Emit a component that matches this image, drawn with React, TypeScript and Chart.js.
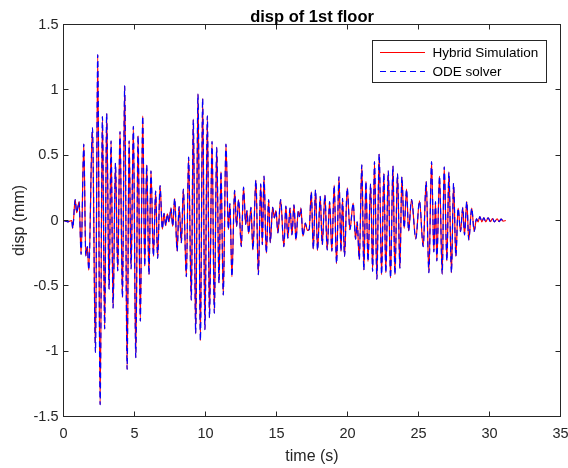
import { useEffect, useRef } from "react";
import { Chart, registerables } from "chart.js";

Chart.register(...registerables);

// ---- data (local extrema of the response) ----
const timeS = [
  0, 0.3, 0.58, 0.65, 0.82, 0.93, 1.10, 1.24, 1.43, 1.57,
  1.68, 1.78, 2.04, 2.25, 2.41, 2.58, 2.74, 2.90, 3.04, 3.21,
  3.35, 3.49, 3.66, 3.82, 3.98, 4.15, 4.31, 4.48, 4.62, 4.76,
  4.92, 5.09, 5.25, 5.41, 5.58, 5.72, 5.86, 6.02, 6.16, 6.33,
  6.49, 6.63, 6.80, 6.96, 7.08, 7.20, 7.31, 7.43, 7.57, 7.69,
  7.83, 8.00, 8.14, 8.30, 8.44, 8.65, 8.81, 9.00, 9.14, 9.31,
  9.47, 9.64, 9.80, 9.96, 10.13, 10.28, 10.46, 10.62, 10.79, 10.95,
  11.09, 11.25, 11.44, 11.61, 11.72, 11.86, 12.05, 12.19, 12.33, 12.52,
  12.68, 12.83, 12.92, 13.04, 13.20, 13.34, 13.55, 13.72, 13.89, 14.00,
  14.12, 14.28, 14.45, 14.56, 14.73, 14.85, 14.96, 15.10, 15.29, 15.52,
  15.66, 15.80, 15.95, 16.09, 16.23, 16.37, 16.53, 16.62, 16.72, 16.86,
  17.03, 17.17, 17.30, 17.45, 17.59, 17.75, 17.89, 18.08, 18.22, 18.41,
  18.57, 18.74, 18.90, 19.06, 19.23, 19.40, 19.54, 19.65, 19.79, 19.98,
  20.17, 20.40, 20.57, 20.68, 20.83, 21.01, 21.15, 21.30, 21.44, 21.63,
  21.77, 21.90, 22.07, 22.23, 22.40, 22.56, 22.70, 22.87, 23.03, 23.20,
  23.34, 23.52, 23.69, 23.83, 23.99, 24.16, 24.30, 24.51, 24.81, 25.07,
  25.33, 25.54, 25.73, 25.92, 26.08, 26.20, 26.29, 26.48, 26.67, 26.81,
  27.00, 27.14, 27.32, 27.47, 27.63, 27.79, 27.96, 28.12, 28.24, 28.40,
  28.54, 28.75, 28.92, 29.08, 29.20, 29.32, 29.46, 29.60, 29.74, 29.90,
  30.07, 30.21, 30.35, 30.54, 30.68, 30.82, 30.96, 31.15,
];

const dispHybrid = [
  0, -0.01, 0.0, -0.06, 0.16, 0.06, 0.145, -0.26, 0.585, -0.27,
  -0.2, -0.38, 0.71, -1.01, 1.27, -1.41, 0.795, -0.83, 0.82, -0.525,
  0.61, -0.67, 0.44, -0.385, 0.68, -0.59, 1.03, -1.14, 0.61, -0.37,
  0.72, -1.05, 0.65, -0.77, 0.80, -0.35, 0.425, -0.415, 0.38, -0.275,
  0.225, -0.29, 0.267, -0.066, 0.055, -0.04, 0.05, -0.01, 0.095, -0.045,
  0.17, -0.235, 0.107, -0.17, 0.24, -0.43, 0.485, -0.61, 0.775, -0.865,
  0.97, -0.92, 0.935, -0.835, 0.80, -0.745, 0.605, -0.71, 0.56, -0.48,
  0.375, -0.57, 0.585, -0.07, 0.13, -0.43, 0.23, -0.045, 0.16, -0.2,
  0.255, -0.03, 0.075, -0.1, 0.10, -0.225, 0.31, -0.415, 0.28, -0.185,
  0.34, -0.25, 0.16, -0.17, 0.10, 0.02, 0.075, -0.095, 0.16, -0.20,
  0.11, -0.135, 0.095, -0.11, 0.12, -0.15, 0.07, 0.03, 0.095, -0.12,
  -0.02, -0.075, -0.07, 0.22, -0.22, 0.235, -0.23, 0.185, -0.185, 0.195,
  -0.225, 0.145, -0.235, 0.27, -0.33, 0.335, -0.237, 0.17, -0.275, 0.25,
  -0.07, 0.133, -0.143, -0.01, -0.30, 0.425, -0.38, 0.30, -0.313, 0.28,
  -0.39, 0.45, -0.45, 0.51, -0.415, 0.362, -0.40, 0.38, -0.44, 0.418,
  -0.415, 0.36, -0.365, 0.335, -0.06, 0.24, -0.08, 0.16, -0.14, 0.15,
  -0.2, 0.30, -0.40, 0.45, -0.24, 0.145, -0.31, 0.34, -0.41, 0.41,
  -0.31, 0.37, -0.40, 0.285, -0.275, 0.095, -0.085, 0.10, -0.11, 0.145,
  -0.148, 0.095, -0.084, 0.013, -0.01, 0.03, -0.01, 0.02, -0.01, 0.02,
  -0.008, 0.015, -0.01, 0.013, -0.008, 0.01, -0.005, 0.0,
];

// The ODE-solver curve lies on top of the hybrid-simulation curve in the picture.
const dispODE = dispHybrid;

const seriesNames = ["Hybrid Simulation", "ODE solver"];
const xTickValues = [0, 5, 10, 15, 20, 25, 30, 35];
const xTickLabels = ["0", "5", "10", "15", "20", "25", "30", "35"];
const yTickValues = [-1.5, -1, -0.5, 0, 0.5, 1, 1.5];
const yTickLabels = ["-1.5", "-1", "-0.5", "0", "0.5", "1", "1.5"];
const chartTitle = "disp of 1st floor";
const xAxisLabel = "time (s)";
const yAxisLabel = "disp (mm)";

const FONT = '"Liberation Sans", Arial, Helvetica, sans-serif';
const AXIS_COLOR = "#262626";
const RED = "rgb(255,0,0)";
const BLUE = "rgb(0,0,255)";
const DASH = [6, 4];

const matlabDecor = {
  id: "matlabDecor",
  afterDatasetsDraw(chart: any) {
    const { ctx, chartArea: a, scales } = chart;
    ctx.save();
    // axes box
    ctx.strokeStyle = AXIS_COLOR;
    ctx.lineWidth = 1;
    ctx.setLineDash([]);
    ctx.strokeRect(a.left, a.top, a.right - a.left, a.bottom - a.top);
    // inward ticks on all four sides
    const tl = 5;
    ctx.beginPath();
    xTickValues.forEach((v) => {
      const px = Math.round(scales.x.getPixelForValue(v) - 0.5) + 0.5;
      ctx.moveTo(px, a.bottom);
      ctx.lineTo(px, a.bottom - tl);
      ctx.moveTo(px, a.top);
      ctx.lineTo(px, a.top + tl);
    });
    yTickValues.forEach((v) => {
      const py = Math.round(scales.y.getPixelForValue(v) - 0.5) + 0.5;
      ctx.moveTo(a.left, py);
      ctx.lineTo(a.left + tl, py);
      ctx.moveTo(a.right, py);
      ctx.lineTo(a.right - tl, py);
    });
    ctx.stroke();

    // title
    ctx.fillStyle = "#000";
    ctx.font = `bold 16.5px ${FONT}`;
    ctx.textAlign = "center";
    ctx.textBaseline = "alphabetic";
    ctx.fillText(chartTitle, (a.left + a.right) / 2, 21.5);

    // legend
    const bx = 372.5, by = 40.5, bw = 174, bh = 42;
    ctx.fillStyle = "#fff";
    ctx.fillRect(bx, by, bw, bh);
    ctx.strokeStyle = AXIS_COLOR;
    ctx.strokeRect(bx, by, bw, bh);
    const rows = [
      { y: 52.5, color: RED, dash: [] as number[] },
      { y: 71.5, color: BLUE, dash: DASH },
    ];
    ctx.font = `13.5px ${FONT}`;
    ctx.textAlign = "left";
    ctx.textBaseline = "middle";
    rows.forEach((r, i) => {
      ctx.beginPath();
      ctx.strokeStyle = r.color;
      ctx.lineWidth = 1;
      ctx.setLineDash(r.dash);
      ctx.moveTo(380, r.y);
      ctx.lineTo(425, r.y);
      ctx.stroke();
      ctx.setLineDash([]);
      ctx.fillStyle = "#000";
      ctx.fillText(seriesNames[i], 432.5, r.y + 0.5);
    });
    ctx.restore();
  },
};

export default function App() {
  const canvasRef = useRef<HTMLCanvasElement | null>(null);

  useEffect(() => {
    if (!canvasRef.current) return;
    const chart = new Chart(canvasRef.current, {
      type: "line",
      data: {
        datasets: [
          {
            label: seriesNames[0],
            data: timeS.map((t, i) => ({ x: t, y: dispHybrid[i] })),
            borderColor: RED,
            borderWidth: 1.2,
            pointRadius: 0,
            fill: false,
            cubicInterpolationMode: "monotone",
            order: 2,
          },
          {
            label: seriesNames[1],
            data: timeS.map((t, i) => ({ x: t, y: dispODE[i] })),
            borderColor: BLUE,
            borderWidth: 1.2,
            borderDash: DASH,
            pointRadius: 0,
            fill: false,
            cubicInterpolationMode: "monotone",
            order: 1,
          },
        ],
      },
      options: {
        responsive: false,
        animation: false,
        devicePixelRatio: 1,
        layout: { padding: { left: 0, right: 7.5, top: 24.5, bottom: 0 } },
        plugins: {
          legend: { display: false },
          title: { display: false },
          tooltip: { enabled: false },
        },
        scales: {
          x: {
            type: "linear",
            min: 0,
            max: 35,
            afterBuildTicks: (s: any) => {
              s.ticks = xTickValues.map((v) => ({ value: v }));
            },
            afterFit: (s: any) => {
              s.height = 51.5;
              s.paddingLeft = 0;
              s.paddingRight = 0;
            },
            grid: { display: false, drawTicks: false, tickLength: 0 },
            border: { display: false },
            ticks: {
              autoSkip: false,
              maxRotation: 0,
              padding: 9,
              color: AXIS_COLOR,
              font: { family: FONT, size: 14.5 },
              callback: (_v: any, i: number) => xTickLabels[i],
            },
            title: {
              display: true,
              text: xAxisLabel,
              color: AXIS_COLOR,
              font: { family: FONT, size: 16 },
              padding: { top: 0, bottom: 2 },
            },
          },
          y: {
            type: "linear",
            min: -1.5,
            max: 1.5,
            afterBuildTicks: (s: any) => {
              s.ticks = yTickValues.map((v) => ({ value: v }));
            },
            afterFit: (s: any) => {
              s.width = 63.5;
              s.paddingTop = 0;
              s.paddingBottom = 0;
            },
            grid: { display: false, drawTicks: false, tickLength: 0 },
            border: { display: false },
            ticks: {
              autoSkip: false,
              padding: 5,
              color: AXIS_COLOR,
              font: { family: FONT, size: 14.5 },
              callback: (_v: any, i: number) => yTickLabels[i],
            },
            title: {
              display: true,
              text: yAxisLabel,
              color: AXIS_COLOR,
              font: { family: FONT, size: 16 },
              padding: { top: 10, bottom: 0 },
            },
          },
        },
      },
      plugins: [matlabDecor],
    } as any);
    return () => chart.destroy();
  }, []);

  return (
    <div style={{ position: "fixed", left: 0, top: 0, width: 568, height: 468, background: "#fff" }}>
      <canvas ref={canvasRef} width={568} height={468} style={{ display: "block" }} />
    </div>
  );
}
